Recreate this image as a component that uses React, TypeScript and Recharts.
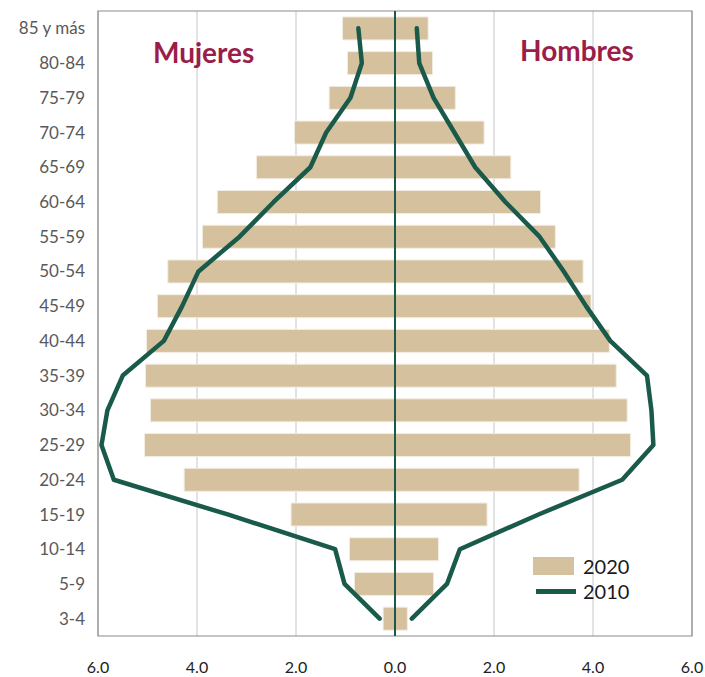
import React from 'react';
import {
  ComposedChart,
  Bar,
  Line,
  XAxis,
  YAxis,
  CartesianGrid,
  ReferenceLine,
  ReferenceArea,
  Legend,
} from 'recharts';

const ageGroups = [
  '85 y más', '80-84', '75-79', '70-74', '65-69', '60-64', '55-59', '50-54', '45-49',
  '40-44', '35-39', '30-34', '25-29', '20-24', '15-19', '10-14', '5-9', '3-4',
];

const women2020 = [1.06, 0.96, 1.33, 2.03, 2.8, 3.59, 3.89, 4.59, 4.8, 5.02, 5.04, 4.94, 5.06, 4.26, 2.1, 0.92, 0.82, 0.24];
const men2020 = [0.67, 0.76, 1.22, 1.8, 2.34, 2.94, 3.24, 3.8, 3.96, 4.33, 4.47, 4.69, 4.76, 3.72, 1.86, 0.88, 0.78, 0.25];
const women2010 = [0.74, 0.67, 0.9, 1.39, 1.71, 2.45, 3.14, 3.97, 4.3, 4.67, 5.5, 5.81, 5.93, 5.68, 3.38, 1.21, 1.02, 0.31];
const men2010 = [0.44, 0.49, 0.78, 1.2, 1.62, 2.23, 2.92, 3.41, 3.86, 4.35, 5.09, 5.18, 5.22, 4.59, 2.9, 1.31, 1.05, 0.34];

const xTicks = [-6, -4, -2, 0, 2, 4, 6];
const sideTitles = ['Mujeres', 'Hombres'];
const legendLabels = ['2020', '2010'];

const BAR = '#d5c19d';
const LINE = '#1a5a4a';
const TITLE = '#9b1d48';

const data = ageGroups.map((age, i) => ({
  age,
  pop2020: [-women2020[i], men2020[i]],
  w2010: -women2010[i],
  m2010: men2010[i],
}));

const renderLegend = () => (
  <div style={{ fontFamily: 'Lato', fontSize: 20, color: '#1a1a1a', lineHeight: '18px' }}>
    <div style={{ display: 'flex', alignItems: 'center', height: 18 }}>
      <span style={{ display: 'inline-block', width: 41, height: 18, background: BAR }} />
      <span style={{ marginLeft: 9 }}>{legendLabels[0]}</span>
    </div>
    <div style={{ display: 'flex', alignItems: 'center', height: 18, marginTop: 7 }}>
      <span style={{ display: 'inline-block', width: 40, height: 5, background: LINE, marginLeft: 3 }} />
      <span style={{ marginLeft: 7 }}>{legendLabels[1]}</span>
    </div>
  </div>
);

export default function App() {
  return (
    <div style={{ position: 'absolute', left: 0, top: 0, width: 705, height: 677, background: '#fff' }}>
      <ComposedChart
        width={705}
        height={677}
        data={data}
        layout="vertical"
        margin={{ top: 11, right: 13, bottom: 0, left: 0 }}
        barCategoryGap="17%"
      >
        <CartesianGrid horizontal={false} vertical={true} stroke="#d4d4d4" strokeWidth={1.3} />
        <ReferenceArea x1={-6} x2={6} fill="none" stroke="#8c8c8c" strokeWidth={1.2} ifOverflow="visible" />
        <XAxis
          type="number"
          domain={[-6, 6]}
          ticks={xTicks}
          tickFormatter={(v: number) => Math.abs(v).toFixed(1)}
          axisLine={false}
          tickLine={false}
          tickSize={0}
          tickMargin={26}
          height={41}
          interval={0}
          tick={{ fill: '#222', fontSize: 16, fontFamily: 'Lato' }}
        />
        <YAxis
          type="category"
          dataKey="age"
          width={98}
          axisLine={false}
          tickLine={false}
          tickSize={0}
          tickMargin={13}
          interval={0}
          tick={{ fill: '#595959', fontSize: 17, fontFamily: 'Lato' }}
        />
        <Bar dataKey="pop2020" name="2020" fill={BAR} stroke="#f3ede2" strokeWidth={1} isAnimationActive={false} />
        <ReferenceLine x={0} stroke={LINE} strokeWidth={2} />
        <Line
          dataKey="w2010"
          name="2010"
          stroke={LINE}
          strokeWidth={4.5}
          dot={false}
          strokeLinecap="round"
          strokeLinejoin="round"
          isAnimationActive={false}
        />
        <Line
          dataKey="m2010"
          name="2010 H"
          stroke={LINE}
          strokeWidth={4.5}
          dot={false}
          strokeLinecap="round"
          strokeLinejoin="round"
          isAnimationActive={false}
          legendType="none"
        />
        <Legend
          layout="vertical"
          align="center"
          verticalAlign="middle"
          content={renderLegend}
          wrapperStyle={{ left: 533, top: 557, width: 110, height: 50 }}
        />
      </ComposedChart>
      <svg
        width={705}
        height={677}
        style={{ position: 'absolute', left: 0, top: 0, pointerEvents: 'none' }}
      >
        <text x={153} y={63} fill={TITLE} fontFamily="Lato" fontWeight="bold" fontSize={28}>
          {sideTitles[0]}
        </text>
        <text x={520} y={61} fill={TITLE} fontFamily="Lato" fontWeight="bold" fontSize={28}>
          {sideTitles[1]}
        </text>
      </svg>
    </div>
  );
}
